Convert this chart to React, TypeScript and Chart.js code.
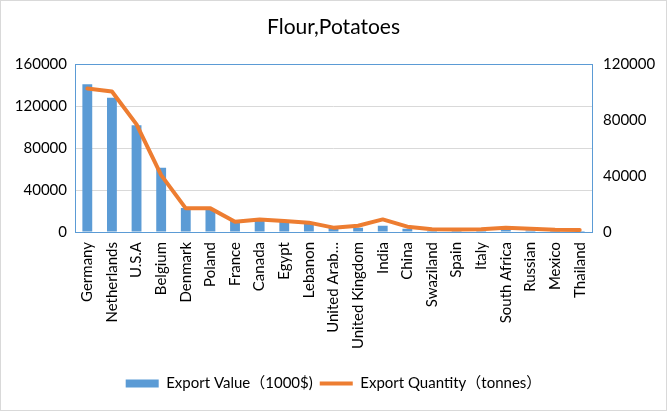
import React, { useEffect, useRef } from 'react';
import { Chart, registerables } from 'chart.js';

Chart.register(...registerables);

const categories = [
  'Germany', 'Netherlands', 'U.S.A', 'Belgium', 'Denmark', 'Poland', 'France', 'Canada', 'Egypt', 'Lebanon',
  'United Arab…', 'United Kingdom', 'India', 'China', 'Swaziland', 'Spain', 'Italy', 'South Africa', 'Russian', 'Mexico', 'Thailand',
];
const exportValue = [141000, 127900, 101900, 61200, 22900, 22000, 11400, 12000, 11000, 9000, 4500, 4000, 6000, 3000, 1000, 1000, 1500, 2500, 1500, 1000, 1000];
const exportQuantity = [102600, 100500, 77000, 40700, 16900, 16900, 7400, 9000, 7900, 6700, 3100, 4500, 9000, 3800, 1900, 1800, 2000, 3100, 2300, 1600, 1500];
const leftTicks = [0, 40000, 80000, 120000, 160000];
const rightTicks = [0, 40000, 80000, 120000];

const FONT = "Lato, 'Noto Sans CJK SC', sans-serif";
const BLUE = '#5b9bd5';
const ORANGE = '#ed7d31';

const framePlugin = {
  id: 'frame',
  beforeDraw(chart: any) {
    const { ctx, width, height } = chart;
    ctx.save();
    ctx.fillStyle = '#ffffff';
    ctx.fillRect(0, 0, width, height);
    ctx.strokeStyle = '#d9d9d9';
    ctx.lineWidth = 1;
    ctx.strokeRect(0.5, 0.5, width - 1, height - 1);
    ctx.restore();
  },
  beforeDatasetsDraw(chart: any) {
    const { ctx, chartArea } = chart;
    ctx.save();
    ctx.strokeStyle = BLUE;
    ctx.lineWidth = 1;
    ctx.strokeRect(
      Math.round(chartArea.left) + 0.5,
      Math.round(chartArea.top) + 0.5,
      Math.round(chartArea.right - chartArea.left),
      Math.round(chartArea.bottom - chartArea.top)
    );
    ctx.restore();
  },
};

export default function App() {
  const ref = useRef<HTMLCanvasElement | null>(null);

  useEffect(() => {
    document.body.style.margin = '0';
    if (!ref.current) return;
    const chart = new Chart(ref.current, {
      type: 'bar',
      data: {
        labels: categories,
        datasets: [
          {
            type: 'line',
            label: 'Export Quantity（tonnes）',
            data: exportQuantity,
            yAxisID: 'y1',
            borderColor: ORANGE,
            backgroundColor: ORANGE,
            borderWidth: 4,
            pointRadius: 0,
            pointHoverRadius: 0,
            pointStyle: 'line',
            tension: 0,
            borderJoinStyle: 'round',
            borderCapStyle: 'round',
            order: 0,
          } as any,
          {
            type: 'bar',
            label: 'Export Value（1000$)',
            data: exportValue,
            yAxisID: 'y',
            backgroundColor: BLUE,
            borderWidth: 0,
            barPercentage: 0.4,
            categoryPercentage: 1,
            pointStyle: 'rect',
            order: 1,
          } as any,
        ],
      },
      options: {
        animation: false,
        responsive: false,
        maintainAspectRatio: false,
        layout: { padding: { top: 0, left: 0, right: 0, bottom: 10 } },
        plugins: {
          title: {
            display: true,
            text: 'Flour,Potatoes',
            color: '#000000',
            font: { family: FONT, size: 21, weight: 'normal' },
            padding: { top: 15, bottom: 24 },
          },
          legend: {
            position: 'bottom',
            reverse: true,
            labels: {
              usePointStyle: true,
              pointStyleWidth: 33,
              boxHeight: 8,
              padding: 7,
              color: '#000000',
              font: { family: FONT, size: 15 },
            },
          },
          tooltip: { enabled: false },
        },
        scales: {
          x: {
            offset: true,
            grid: { display: false, drawTicks: false },
            border: { display: false },
            ticks: {
              minRotation: 90,
              maxRotation: 90,
              autoSkip: false,
              padding: 10,
              color: '#000000',
              font: { family: FONT, size: 15 },
            },
            afterFit(scale: any) {
              scale.height = 137;
            },
          },
          y: {
            position: 'left',
            min: 0,
            max: 160000,
            afterBuildTicks(scale: any) {
              scale.ticks = leftTicks.map((v) => ({ value: v }));
            },
            grid: { color: '#d9d9d9', drawTicks: false },
            border: { display: false },
            ticks: {
              padding: 8,
              color: '#000000',
              font: { family: FONT, size: 15 },
              callback: (v: any) => String(v),
            },
            afterFit(scale: any) {
              scale.width = 75;
            },
          },
          y1: {
            position: 'right',
            min: 0,
            max: 120000,
            afterBuildTicks(scale: any) {
              scale.ticks = rightTicks.map((v) => ({ value: v }));
            },
            grid: { display: false, drawTicks: false },
            border: { display: false },
            ticks: {
              padding: 11,
              color: '#000000',
              font: { family: FONT, size: 15 },
              callback: (v: any) => String(v),
            },
            afterFit(scale: any) {
              scale.width = 75;
            },
          },
        },
      },
      plugins: [framePlugin],
    });
    return () => chart.destroy();
  }, []);

  return (
    <div style={{ width: 667, height: 411, position: 'relative' }}>
      <canvas ref={ref} width={667} height={411} style={{ width: 667, height: 411, display: 'block' }} />
    </div>
  );
}
